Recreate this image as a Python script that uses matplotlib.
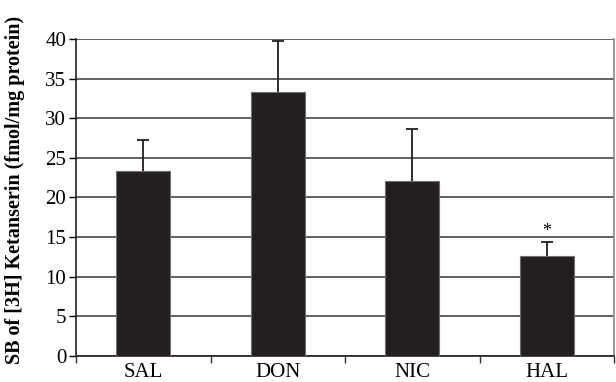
import numpy as np
import matplotlib
matplotlib.use('Agg')
import matplotlib.pyplot as plt

plt.rcParams['font.family'] = ['Liberation Serif', 'DejaVu Serif']

groups = ['SAL', 'DON', 'NIC', 'HAL']
means = [23.3, 33.3, 22.1, 12.6]
sem = [4.0, 6.4, 6.5, 1.8]
signif = ['', '', '', '*']

fig = plt.figure(figsize=(6.16, 3.82), dpi=100)
ax = fig.add_axes([0.1234, 0.068, 0.8734, 0.830])

x = np.arange(len(groups))
ax.bar(x, means, width=0.4, color='#231f20', edgecolor='#6e6e6e', linewidth=0.8, zorder=3)
# upper error only: hide the lower cap
eb = ax.errorbar(x, means, yerr=[np.zeros(len(sem)), sem], fmt='none', ecolor='#231f20',
                 elinewidth=1.3, capsize=4, capthick=1.3, zorder=4)
eb[1][0].set_visible(False)
for xi, m, s, lab in zip(x, means, sem, signif):
    if lab:
        ax.text(xi, m + s + 0.3, lab, ha='center', va='bottom', fontsize=13)

ax.set_xlim(-0.5, len(groups) - 0.5)
ax.set_ylim(0, 40)
ax.set_yticks(range(0, 41, 5))
ax.yaxis.grid(True, color='#555555', linewidth=1.3, zorder=0)
ax.set_axisbelow(True)

# category labels centred, tick marks at the category boundaries
ax.set_xticks(x)
ax.set_xticklabels(groups, fontsize=15)
ax.tick_params(axis='x', which='major', length=0, pad=5)
ax.set_xticks(np.arange(-0.5, len(groups)), minor=True)
ax.tick_params(axis='x', which='minor', length=5, width=1, color='#333333')
ax.tick_params(axis='y', length=5, width=1, labelsize=15, pad=2)

for side in ['left', 'bottom']:
    ax.spines[side].set_color('#231f20')
    ax.spines[side].set_linewidth(1.2)
ax.spines['top'].set_visible(False)
ax.spines['right'].set_color('#888888')
ax.spines['right'].set_linewidth(1.2)

fig.text(15 / 616, 1 - 190 / 382, 'SB of [3H] Ketanserin (fmol/mg protein)',
         rotation=90, ha='center', va='center', fontsize=14.5, fontweight='bold')

fig.savefig('out.png', dpi=100)
